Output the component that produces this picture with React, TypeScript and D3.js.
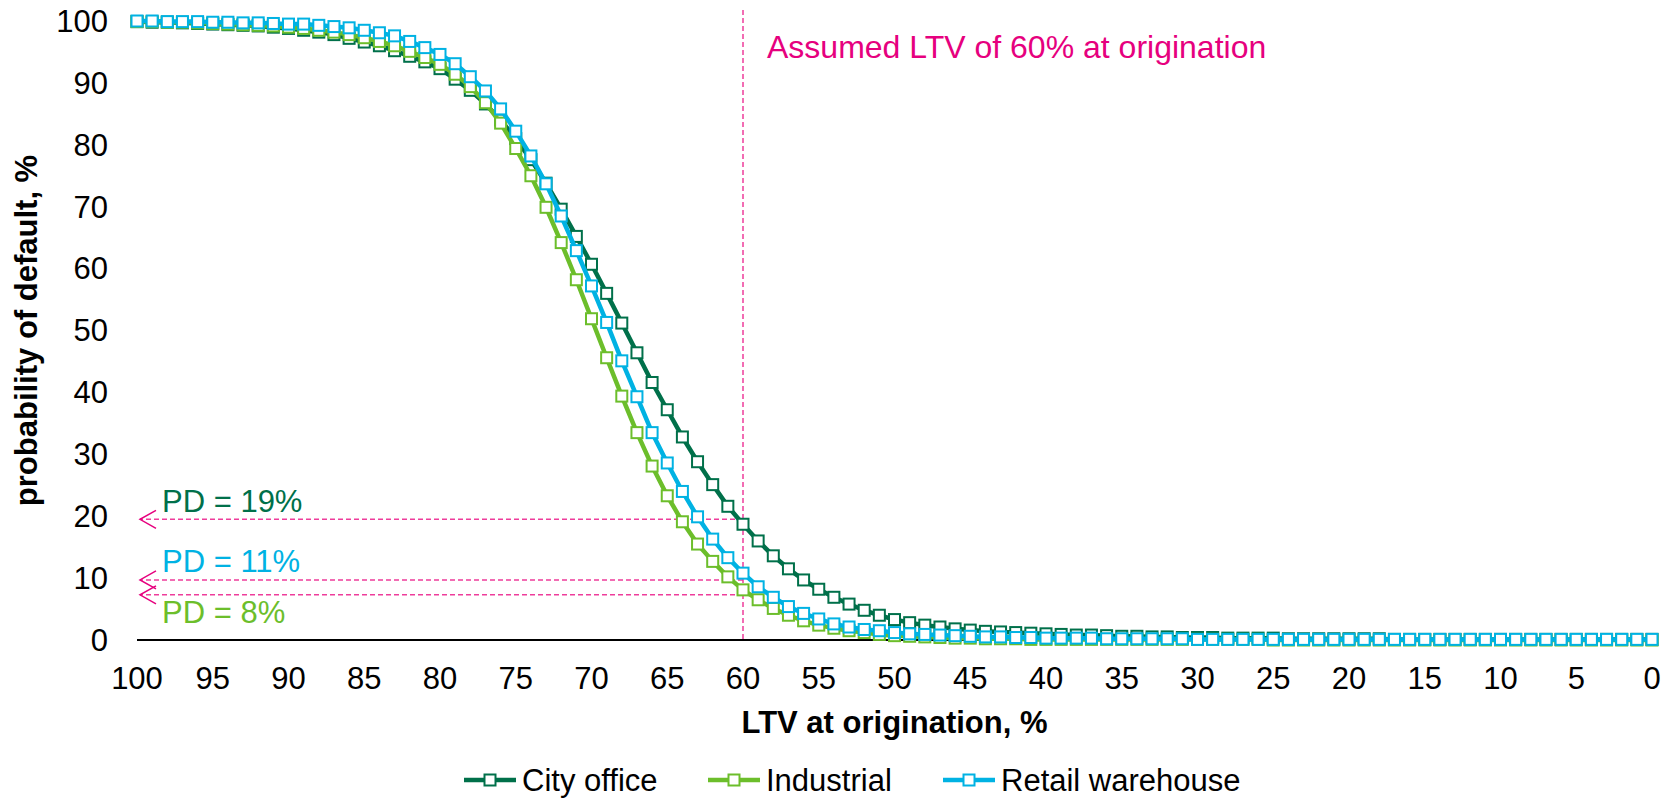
import * as d3 from 'd3';

const WIDTH = 1680;
const HEIGHT = 799;
const MARGINS = { top: 21, right: 28, bottom: 159, left: 137 };
const FONT = "'Liberation Sans', Arial, sans-serif";

// LTV at origination, descending 100 -> 0
const LTV = d3.range(100, -1, -1);

const CITY_OFFICE = [
  99.9, 99.8, 99.8, 99.7, 99.6, 99.5, 99.4, 99.3, 99.2, 99.0,
  98.8, 98.5, 98.2, 97.8, 97.2, 96.6, 96.0, 95.2, 94.3, 93.4,
  92.3, 90.6, 88.8, 86.6, 84.0, 81.0, 77.6, 73.8, 69.6, 65.2,
  60.7, 56.0, 51.2, 46.4, 41.6, 37.2, 32.8, 28.8, 25.1, 21.6,
  18.7, 16.0, 13.6, 11.5, 9.7, 8.2, 6.9, 5.8, 4.8, 4.0,
  3.3, 2.8, 2.4, 2.1, 1.8, 1.6, 1.4, 1.3, 1.2, 1.1,
  1.0, 0.9, 0.8, 0.8, 0.7, 0.6, 0.6, 0.5, 0.5, 0.4,
  0.4, 0.4, 0.3, 0.3, 0.3, 0.3, 0.2, 0.2, 0.2, 0.2,
  0.2, 0.2, 0.2, 0.1, 0.1, 0.1, 0.1, 0.1, 0.1, 0.1,
  0.1, 0.1, 0.1, 0.1, 0.1, 0.1, 0.1, 0.1, 0.1, 0.1,
  0.1,
];

const INDUSTRIAL = [
  99.9, 99.9, 99.8, 99.8, 99.7, 99.6, 99.5, 99.4, 99.3, 99.2,
  99.0, 98.8, 98.5, 98.2, 97.8, 97.3, 96.7, 96.0, 95.1, 94.1,
  93.0, 91.4, 89.4, 86.8, 83.5, 79.4, 75.0, 69.9, 64.2, 58.2,
  51.9, 45.6, 39.4, 33.5, 28.1, 23.3, 19.1, 15.5, 12.7, 10.2,
  8.1, 6.5, 5.1, 4.0, 3.1, 2.4, 1.9, 1.5, 1.2, 0.9,
  0.7, 0.6, 0.5, 0.4, 0.3, 0.3, 0.2, 0.2, 0.2, 0.1,
  0.1, 0.1, 0.1, 0.1, 0.1, 0.1, 0.1, 0.1, 0.1, 0.1,
  0.1, 0.1, 0.1, 0.1, 0.1, 0.0, 0.0, 0.0, 0.0, 0.0,
  0.0, 0.0, 0.0, 0.0, 0.0, 0.0, 0.0, 0.0, 0.0, 0.0,
  0.0, 0.0, 0.0, 0.0, 0.0, 0.0, 0.0, 0.0, 0.0, 0.0,
  0.0,
];

const RETAIL_WAREHOUSE = [
  100.0, 100.0, 99.9, 99.9, 99.9, 99.8, 99.8, 99.7, 99.7, 99.6,
  99.5, 99.5, 99.3, 99.1, 98.9, 98.5, 98.1, 97.6, 96.7, 95.7,
  94.6, 93.1, 91.0, 88.7, 85.8, 82.2, 78.2, 73.7, 68.5, 62.9,
  57.2, 51.3, 45.1, 39.3, 33.5, 28.6, 24.0, 19.9, 16.3, 13.3,
  10.8, 8.6, 6.9, 5.4, 4.3, 3.4, 2.6, 2.1, 1.7, 1.5,
  1.2, 1.0, 0.9, 0.8, 0.7, 0.6, 0.5, 0.5, 0.4, 0.4,
  0.3, 0.3, 0.3, 0.3, 0.2, 0.2, 0.2, 0.2, 0.2, 0.2,
  0.1, 0.1, 0.1, 0.1, 0.1, 0.1, 0.1, 0.1, 0.1, 0.1,
  0.1, 0.1, 0.1, 0.1, 0.1, 0.1, 0.1, 0.1, 0.1, 0.1,
  0.1, 0.1, 0.1, 0.1, 0.1, 0.1, 0.1, 0.1, 0.1, 0.1,
  0.1,
];

const SERIES = [
  { name: 'City office', color: '#00704A', values: CITY_OFFICE },
  { name: 'Industrial', color: '#6CBE2B', values: INDUSTRIAL },
  { name: 'Retail warehouse', color: '#00B2E3', values: RETAIL_WAREHOUSE },
];

const X_TICKS = d3.range(100, -1, -5);
const Y_TICKS = d3.range(0, 101, 10);

const ASSUMED_LTV = 60;
const ASSUMED_LABEL = 'Assumed LTV of 60% at origination';
// PD read-outs: arrow level, label, label offset from arrow
const PD_NOTES = [
  { level: 19.5, label: 'PD = 19%', color: '#00704A', dy: -7 },
  { level: 9.7, label: 'PD = 11%', color: '#00B2E3', dy: -8 },
  { level: 7.3, label: 'PD = 8%', color: '#6CBE2B', dy: 28 },
];

const PINK = '#E6007E';
const PINK_LINE = '#EE3D9B';

export default function App() {
  const x = d3
    .scaleLinear()
    .domain([100, 0])
    .range([MARGINS.left, WIDTH - MARGINS.right]);
  const y = d3
    .scaleLinear()
    .domain([0, 100])
    .range([HEIGHT - MARGINS.bottom, MARGINS.top]);

  const line = d3
    .line<number>()
    .x((_, i) => x(LTV[i]))
    .y((d) => y(d));

  const markerSize = 11;
  const legendItems = [464, 708, 943];

  return (
    <svg
      width={WIDTH}
      height={HEIGHT}
      style={{ position: 'absolute', left: 0, top: 0, background: '#fff', fontFamily: FONT }}
    >
      {/* y tick labels */}
      {Y_TICKS.map((t) => (
        <text key={t} x={108} y={y(t)} dy="0.35em" textAnchor="end" fontSize={31} fill="#000">
          {t}
        </text>
      ))}
      {/* x tick labels */}
      {X_TICKS.map((t) => (
        <text key={t} x={x(t)} y={689} textAnchor="middle" fontSize={31} fill="#000">
          {t}
        </text>
      ))}

      {/* axis titles */}
      <text
        transform={`translate(37,${(y(0) + y(100)) / 2}) rotate(-90)`}
        textAnchor="middle"
        fontSize={31}
        fontWeight="bold"
      >
        probability of default, %
      </text>
      <text x={(x(100) + x(0)) / 2} y={733} textAnchor="middle" fontSize={31} fontWeight="bold">
        LTV at origination, %
      </text>

      {/* x axis line */}
      <line x1={x(100)} x2={x(0)} y1={y(0)} y2={y(0)} stroke="#000" strokeWidth={2} />

      {/* assumed LTV marker */}
      <line
        x1={x(ASSUMED_LTV)}
        x2={x(ASSUMED_LTV)}
        y1={10}
        y2={y(0)}
        stroke={PINK_LINE}
        strokeWidth={1.5}
        strokeDasharray="5,3"
      />
      <text x={x(ASSUMED_LTV) + 24} y={58} fontSize={32} fill={PINK}>
        {ASSUMED_LABEL}
      </text>

      {/* PD arrows */}
      {PD_NOTES.map((n) => {
        const yy = y(n.level);
        return (
          <g key={n.label}>
            <line
              x1={x(ASSUMED_LTV)}
              x2={x(100) + 3}
              y1={yy}
              y2={yy}
              stroke={PINK_LINE}
              strokeWidth={1.5}
              strokeDasharray="5,3"
            />
            <path
              d={`M${x(100) + 19},${yy - 9}L${x(100) + 3},${yy}L${x(100) + 19},${yy + 9}`}
              fill="none"
              stroke={PINK}
              strokeWidth={1.5}
            />
            <text x={x(100) + 25} y={yy + n.dy} fontSize={31} fill={n.color}>
              {n.label}
            </text>
          </g>
        );
      })}

      {/* series */}
      {SERIES.map((s) => (
        <g key={s.name}>
          <path d={line(s.values) ?? ''} fill="none" stroke={s.color} strokeWidth={4.5} strokeLinejoin="round" />
          {s.values.map((v, i) => (
            <rect
              key={i}
              x={x(LTV[i]) - markerSize / 2}
              y={y(v) - markerSize / 2}
              width={markerSize}
              height={markerSize}
              fill="#fff"
              stroke={s.color}
              strokeWidth={2}
            />
          ))}
        </g>
      ))}

      {/* legend */}
      {SERIES.map((s, i) => {
        const lx = legendItems[i];
        const ly = 780;
        return (
          <g key={s.name}>
            <line x1={lx} x2={lx + 52} y1={ly} y2={ly} stroke={s.color} strokeWidth={4.5} />
            <rect
              x={lx + 26 - markerSize / 2}
              y={ly - markerSize / 2}
              width={markerSize}
              height={markerSize}
              fill="#fff"
              stroke={s.color}
              strokeWidth={2}
            />
            <text x={lx + 58} y={ly + 11} fontSize={31} fill="#000">
              {s.name}
            </text>
          </g>
        );
      })}
    </svg>
  );
}
